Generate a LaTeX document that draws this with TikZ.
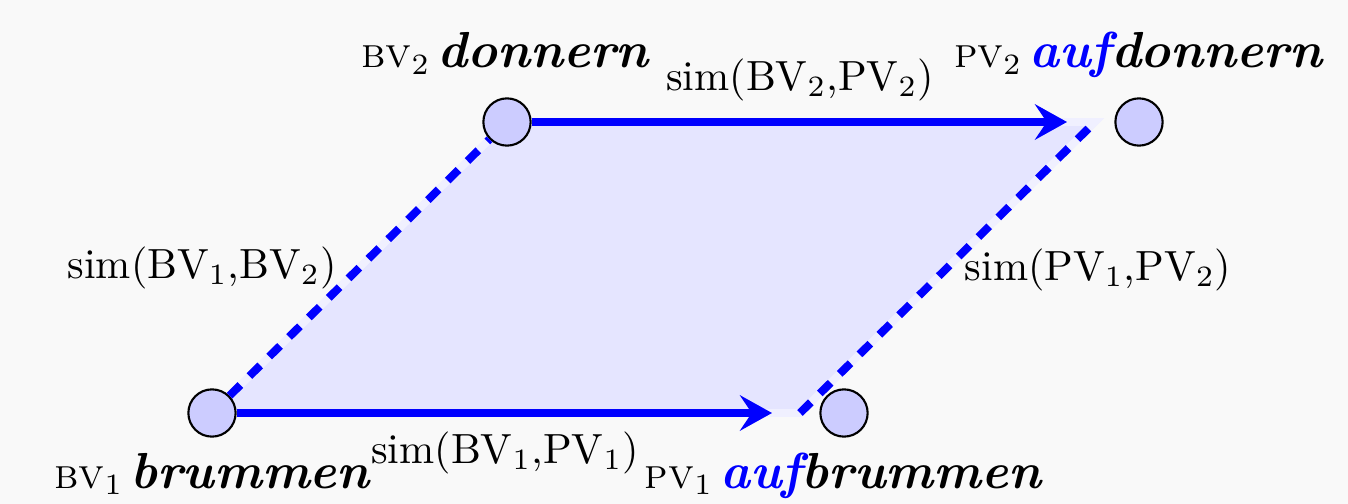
\documentclass[tikz,border=0pt]{standalone}
\usetikzlibrary{arrows.meta}
\definecolor{bg}{HTML}{F9F9F9}
\begin{document}
\begin{tikzpicture}[x=0.237pt,y=-0.237pt,
  vert/.style={circle,draw=black,fill=blue!20,minimum size=11.2pt,inner sep=0pt,line width=0.5pt},
  simlink/.style={blue,line width=1.8pt,-{Stealth[length=7.6pt,width=8.4pt,inset=2.8pt]}},
  dashlink/.style={blue,line width=1.9pt,dash pattern=on 3.6pt off 3pt},
  word/.style={inner sep=0pt,anchor=base},
  simtxt/.style={inner sep=0pt},
]
\useasboundingbox (0,0) rectangle (1348,504);
\fill[bg] (0,0) rectangle (1348,504);
% corners of the shaded area
\coordinate (c1) at (800,413);
\coordinate (c2) at (1095,122);
\coordinate (e1) at (772,413);
\coordinate (e2) at (1067,122);
\fill[blue!10] (212,413) -- (507,122) -- (c2) -- (c1) -- cycle;
\draw[blue!6,line width=1.8pt] (212,413) -- (507,122) -- (c2) -- (c1) -- cycle;
% vertices
\node[vert] (bv1) at (212,413) {};
\node[vert] (bv2) at (507,122) {};
\node[vert] (pv1) at (844,413) {};
\node[vert] (pv2) at (1139,122) {};
% connectors
\draw[simlink] (bv1) -- (e1);
\draw[simlink] (bv2) -- (e2);
\draw[dashlink] (bv1) -- (bv2);
\draw[dashlink] (c1) -- (c2);
% vertex labels
\node[word] (lbv2) at (505,68) {\textsc{bv}$_2$\,{\large\bfseries\itshape donnern}};
\node[word] (lpv2) at (1138,68) {\textsc{pv}$_2$\,{\large\bfseries\itshape{\color{blue}auf}donnern}};
\node[word] (lbv1) at (212,488) {\textsc{bv}$_1$\,{\large\bfseries\itshape brummen}};
\node[word] (lpv1) at (843,488) {\textsc{pv}$_1$\,{\large\bfseries\itshape{\color{blue}auf}brummen}};
% similarity labels
\node[simtxt] (s22) at (800,80) {sim(BV$_2$,PV$_2$)};
\node[simtxt] (s11) at (505,453) {sim(BV$_1$,PV$_1$)};
\node[simtxt] (sbb) at (202,268) {sim(BV$_1$,BV$_2$)};
\node[simtxt] (spp) at (1098,270) {sim(PV$_1$,PV$_2$)};
\end{tikzpicture}
\end{document}
